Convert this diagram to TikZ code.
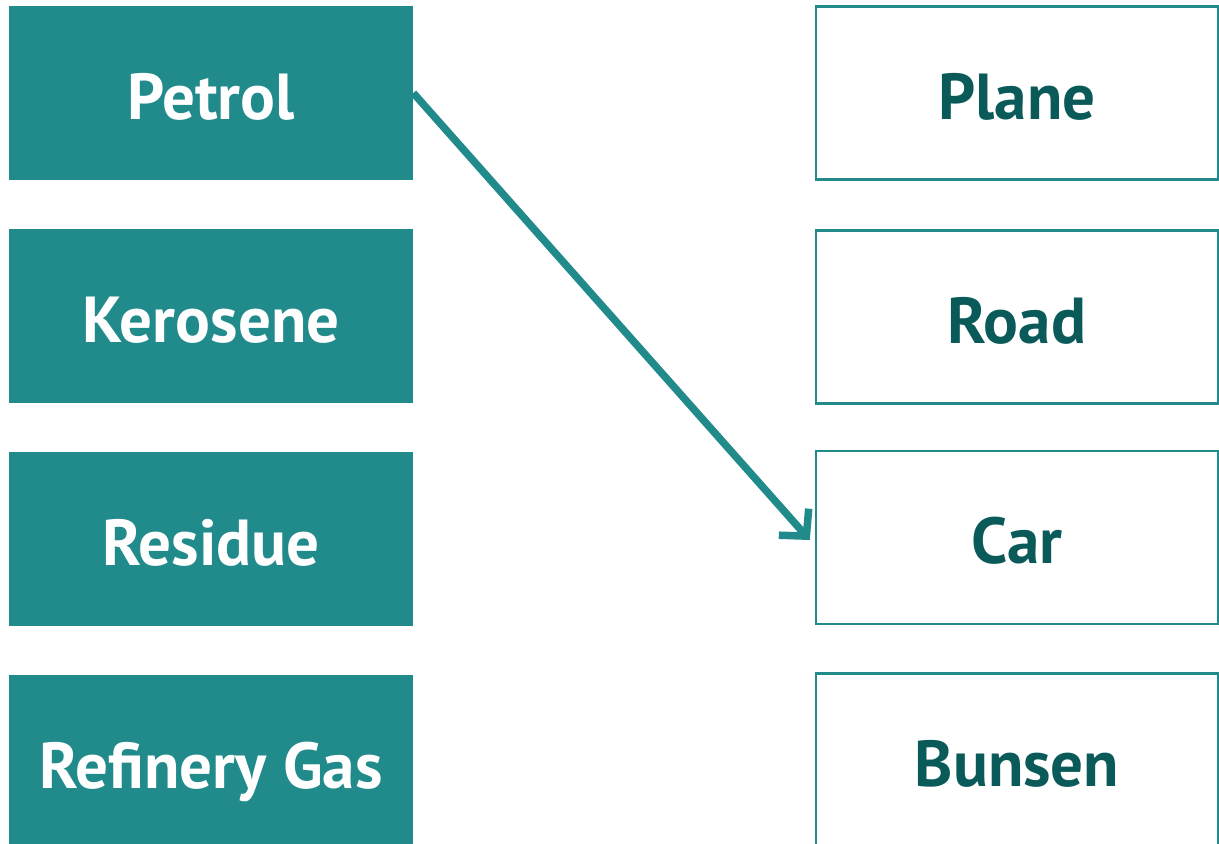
\documentclass[tikz,border=0pt]{standalone}
\usepackage{fontspec}
\setmainfont{PT Sans}
\usepackage{xcolor}
\usetikzlibrary{positioning,arrows.meta}
\definecolor{fueltea}{HTML}{218B8C}
\definecolor{usetext}{HTML}{0B5A5A}
\tikzset{
  fuel/.style={fill=fueltea, text=white, minimum width=8.08cm, minimum height=3.48cm, inner sep=0pt, text height=1.05cm, text depth=0cm, font=\fontsize{37}{40}\selectfont\bfseries},
  use/.style={draw=fueltea, line width=0.05cm, fill=white, text=usetext, minimum width=8.04cm, minimum height=3.46cm, inner sep=0pt, text height=1.05cm, text depth=0cm, font=\fontsize{37}{40}\selectfont\bfseries},
  link/.style={draw=fueltea, line width=0.15cm, -{Straight Barb[length=0.38cm, width=0.8cm]}}
}

\begin{document}
\begin{tikzpicture}[x=0.02cm, y=-0.02cm]
			\useasboundingbox (0,0) rectangle (1219,843);
			\clip (0,0) rectangle (1219,843);
			% fuels
			\node[fuel] (petrol) at (211,93) {Petrol};
			\node[fuel] (kerosene) at (211,316) {Kerosene};
			\node[fuel] (residue) at (211,539) {Residue};
			\node[fuel] (gas) at (211,762) {Refinery Gas};
			% uses
			\node[use] (plane) at (1017,93) {Plane};
			\node[use] (road) at (1017,317) {Road};
			\node[use] (car) at (1017,537.5) {Car};
			\node[use] (bunsen) at (1017,760) {Bunsen};
			\draw[link] (petrol.east) -- ([xshift=-0.1cm, yshift=-0.05cm]car.west);
		\end{tikzpicture}
\end{document}
